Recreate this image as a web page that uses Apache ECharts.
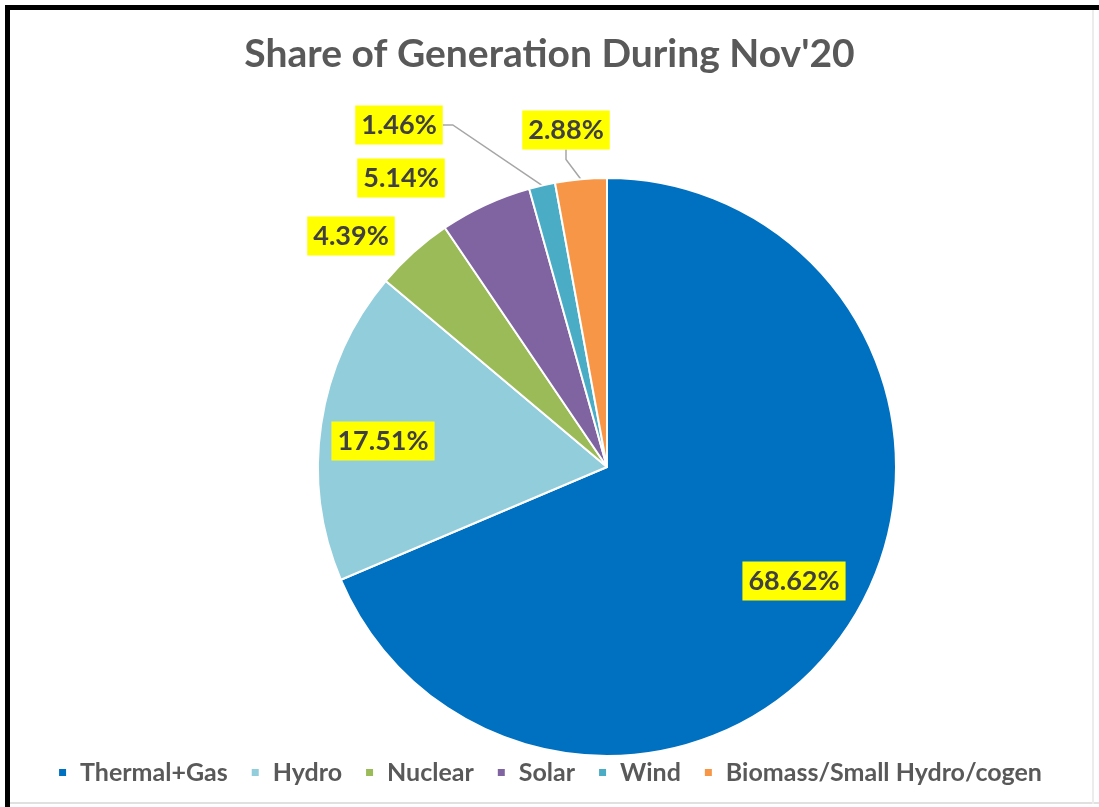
<!DOCTYPE html>
<html>
<head>
<meta charset="utf-8">
<script src="https://cdn.jsdelivr.net/npm/echarts@6/dist/echarts.min.js"></script>
<style>
html, body { margin: 0; padding: 0; background: #fff; }
#chart { width: 1099px; height: 807px; }
</style>
</head>
<body>
<div id="chart"></div>
<script>
var sources = ['Thermal+Gas', 'Hydro', 'Nuclear', 'Solar', 'Wind', 'Biomass/Small Hydro/cogen'];
var shares = [68.62, 17.51, 4.39, 5.14, 1.46, 2.88];
var colors = ['#0070C0', '#92CDDC', '#9BBB59', '#8064A2', '#4BACC6', '#F79646'];
// where each label box sits
var labelPos = [[794, 581], [383, 441], [351, 236], [401, 178], [399, 125], [566, 130]];
var withLine = [false, false, false, false, true, true];

var chart = echarts.init(document.getElementById('chart'));

var data = [];
for (var i = 0; i < sources.length; i++) {
	data.push({
		name: sources[i],
		value: shares[i],
		itemStyle: { color: colors[i] },
		labelLine: { show: withLine[i] }
	});
}

var option = {
	animation: false,
	backgroundColor: '#fff',
	title: {
		text: "Share of Generation During Nov'20",
		left: 'center',
		top: 30,
		textStyle: { fontFamily: 'Lato', fontWeight: 'bold', fontSize: 39, color: '#595959' }
	},
	legend: {
		bottom: 17,
		left: 'center',
		icon: 'rect',
		itemWidth: 9,
		itemHeight: 9,
		itemGap: 22,
		formatter: function (name) { return '{t|' + name + '}'; },
		textStyle: {
			rich: { t: { fontFamily: 'Lato', fontWeight: 'bold', fontSize: 25, color: '#595959', padding: [0, 0, 0, 8] } }
		},
		data: sources
	},
	graphic: [
		{ type: 'rect', shape: { x: 5, y: 5, width: 1094, height: 5 }, style: { fill: '#000' } },
		{ type: 'rect', shape: { x: 5, y: 5, width: 5, height: 802 }, style: { fill: '#000' } },
		{ type: 'rect', shape: { x: 10, y: 802, width: 1089, height: 2 }, style: { fill: '#e0e0e0' } },
		{ type: 'rect', shape: { x: 1092, y: 10, width: 2, height: 794 }, style: { fill: '#ececec' } }
	],
	series: [{
		type: 'pie',
		center: [607, 467],
		radius: 289,
		startAngle: 90,
		clockwise: true,
		itemStyle: { borderColor: '#fff', borderWidth: 2 },
		label: {
			show: true,
			position: 'outside',
			formatter: function (p) { return p.value.toFixed(2) + '%'; },
			fontFamily: 'Lato',
			fontWeight: 'bold',
			fontSize: 27,
			color: '#404040',
			backgroundColor: '#FFFF00',
			padding: [7, 6, 5, 6]
		},
		labelLine: { lineStyle: { color: '#a6a6a6', width: 1.5 }, length: 10, length2: 10 },
		labelLayout: function (p) {
			var pos = labelPos[p.dataIndex];
			return { x: pos[0], y: pos[1], align: 'center', verticalAlign: 'middle' };
		},
		data: data
	}]
};
chart.setOption(option);
</script>
</body>
</html>
